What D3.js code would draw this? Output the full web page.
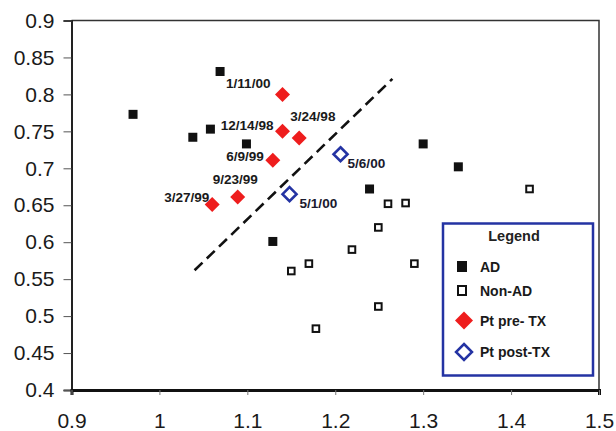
<!DOCTYPE html>
<html>
<head>
<meta charset="utf-8">
<script src="https://cdn.jsdelivr.net/npm/d3@7"></script>
<style>
  html, body { margin: 0; padding: 0; background: #fff; }
  svg { display: block; font-family: "Liberation Sans", Arial, sans-serif; }
</style>
</head>
<body>
<svg id="chart" width="616" height="431"></svg>
<script>
// Axis ticks
const xTicks = [0.9, 1.0, 1.1, 1.2, 1.3, 1.4, 1.5];
const yTicks = [0.4, 0.45, 0.5, 0.55, 0.6, 0.65, 0.7, 0.75, 0.8, 0.85, 0.9];

// AD group (filled squares)
const adX = [0.97, 1.038, 1.058, 1.069, 1.099, 1.129, 1.239, 1.300, 1.340];
const adY = [0.773, 0.742, 0.753, 0.831, 0.733, 0.601, 0.672, 0.733, 0.702];

// Non-AD group (open squares)
const nonAdX = [1.150, 1.170, 1.178, 1.219, 1.249, 1.249, 1.260, 1.280, 1.290, 1.421];
const nonAdY = [0.561, 0.571, 0.483, 0.590, 0.620, 0.513, 0.652, 0.653, 0.571, 0.672];

// Patient before treatment (red diamonds) with visit dates
const preDates = ["1/11/00", "12/14/98", "3/24/98", "6/9/99", "9/23/99", "3/27/99"];
const preX = [1.140, 1.140, 1.159, 1.129, 1.089, 1.060];
const preY = [0.800, 0.750, 0.741, 0.711, 0.661, 0.651];

// Patient after treatment (blue open diamonds)
const postDates = ["5/1/00", "5/6/00"];
const postX = [1.148, 1.206];
const postY = [0.665, 0.719];

// Separating guide line
const guideX = [1.04, 1.265];
const guideY = [0.562, 0.821];

// Legend entries
const legendLabels = ["AD", "Non-AD", "Pt pre- TX", "Pt post-TX"];

const RED = "#ee1d1d";
const BLUE = "#2433a3";

const svg = d3.select("#chart");
const x = d3.scaleLinear().domain([0.9, 1.5]).range([71.5, 599]);
const y = d3.scaleLinear().domain([0.4, 0.9]).range([390, 20.5]);

// Plot frame (top and right)
svg.append("path")
  .attr("d", `M${x(0.9)},${y(0.9)}H${x(1.5)}V${y(0.4)}`)
  .attr("fill", "none").attr("stroke", "#333").attr("stroke-width", 1.5);

// Y axis
const yAxis = svg.append("g")
  .attr("transform", `translate(${x(0.9)},0)`)
  .call(d3.axisLeft(y).tickValues(yTicks).tickFormat(d3.format("")).tickSize(8).tickPadding(9));
yAxis.select(".domain").attr("stroke", "#222").attr("stroke-width", 2);
yAxis.selectAll(".tick line").attr("stroke", "#555").attr("stroke-width", 1);
yAxis.selectAll("text").attr("font-size", 21).attr("fill", "#1a1a1a")
  .attr("font-family", "Liberation Sans, Arial, sans-serif");

// X axis
const xAxis = svg.append("g")
  .attr("transform", `translate(0,${y(0.4)})`)
  .call(d3.axisBottom(x).tickValues(xTicks).tickFormat(d3.format("")).tickSize(5).tickPadding(18));
xAxis.select(".domain").attr("stroke", "#111").attr("stroke-width", 3);
xAxis.selectAll(".tick line").attr("stroke", "#777").attr("stroke-width", 1);
xAxis.selectAll("text").attr("font-size", 21).attr("fill", "#1a1a1a")
  .attr("font-family", "Liberation Sans, Arial, sans-serif");

// Dashed guide line
svg.append("line")
  .attr("x1", x(guideX[0])).attr("y1", y(guideY[0]))
  .attr("x2", x(guideX[1])).attr("y2", y(guideY[1]))
  .attr("stroke", "#111").attr("stroke-width", 2.6)
  .attr("stroke-dasharray", "11,6");

const diamond = (s) => `M0,${-s}L${s},0L0,${s}L${-s},0Z`;

// AD markers
svg.append("g").selectAll("rect").data(adX.map((v, i) => [v, adY[i]]))
  .join("rect")
  .attr("x", d => x(d[0]) - 4.5).attr("y", d => y(d[1]) - 4.5)
  .attr("width", 9).attr("height", 9).attr("fill", "#111");

// Non-AD markers
svg.append("g").selectAll("rect").data(nonAdX.map((v, i) => [v, nonAdY[i]]))
  .join("rect")
  .attr("x", d => x(d[0]) - 3.3).attr("y", d => y(d[1]) - 3.3)
  .attr("width", 6.6).attr("height", 6.6)
  .attr("fill", "#fff").attr("stroke", "#111").attr("stroke-width", 2);

// Pre-treatment markers
svg.append("g").selectAll("path").data(preX.map((v, i) => [v, preY[i]]))
  .join("path")
  .attr("transform", d => `translate(${x(d[0])},${y(d[1])})`)
  .attr("d", diamond(7.5)).attr("fill", RED);

// Post-treatment markers
svg.append("g").selectAll("path").data(postX.map((v, i) => [v, postY[i]]))
  .join("path")
  .attr("transform", d => `translate(${x(d[0])},${y(d[1])})`)
  .attr("d", diamond(7)).attr("fill", "#fff")
  .attr("stroke", BLUE).attr("stroke-width", 2.6);

// Date labels: bold, slightly widened lettering
const LABEL_SIZE = 12;
const LABEL_STRETCH = 1.13;
const preOffsets = [[-12, -6, "end"], [-9, -1, "end"], [-9, -17, "start"], [-9, 1, "end"], [-25, -13, "start"], [-48, -2.5, "start"]];
svg.append("g").selectAll("text").data(preDates)
  .join("text")
  .attr("transform", (d, i) =>
    `translate(${x(preX[i]) + preOffsets[i][0]},${y(preY[i]) + preOffsets[i][1]}) scale(${LABEL_STRETCH},1)`)
  .attr("text-anchor", (d, i) => preOffsets[i][2])
  .attr("font-size", LABEL_SIZE).attr("font-weight", "bold")
  .attr("fill", "#1a1a1a").text(d => d);

const postOffsets = [[10, 14], [7, 14]];
svg.append("g").selectAll("text").data(postDates)
  .join("text")
  .attr("transform", (d, i) =>
    `translate(${x(postX[i]) + postOffsets[i][0]},${y(postY[i]) + postOffsets[i][1]}) scale(${LABEL_STRETCH},1)`)
  .attr("font-size", LABEL_SIZE).attr("font-weight", "bold")
  .attr("fill", "#1a1a2e").text(d => d);

// Legend
const lg = svg.append("g").attr("transform", "translate(443,223.5)");
lg.append("rect").attr("width", 150).attr("height", 152)
  .attr("fill", "#fff").attr("stroke", BLUE).attr("stroke-width", 2.5);
lg.append("text").attr("x", 71).attr("y", 17).attr("text-anchor", "middle")
  .attr("font-size", 14.5).attr("font-weight", "bold").attr("fill", "#222").text("Legend");

const rowY = [43, 67, 97, 128.5];
const items = lg.selectAll("g.item").data(legendLabels).join("g")
  .attr("class", "item")
  .attr("transform", (d, i) => `translate(0,${rowY[i]})`);
items.append("text").attr("x", 37).attr("y", 5)
  .attr("font-size", 14).attr("font-weight", "bold").attr("fill", "#1a1a1a")
  .text(d => d);
items.each(function (d, i) {
  const g = d3.select(this);
  if (i === 0) {
    g.append("rect").attr("x", 14).attr("y", -5.5).attr("width", 10).attr("height", 11).attr("fill", "#111");
  } else if (i === 1) {
    g.append("rect").attr("x", 15).attr("y", -4.5).attr("width", 8).attr("height", 9)
      .attr("fill", "#fff").attr("stroke", "#111").attr("stroke-width", 2);
  } else if (i === 2) {
    g.append("path").attr("transform", "translate(21,0)").attr("d", diamond(9)).attr("fill", RED);
  } else {
    g.append("path").attr("transform", "translate(21,0)").attr("d", diamond(8))
      .attr("fill", "#fff").attr("stroke", BLUE).attr("stroke-width", 2.5);
  }
});
</script>
</body>
</html>
